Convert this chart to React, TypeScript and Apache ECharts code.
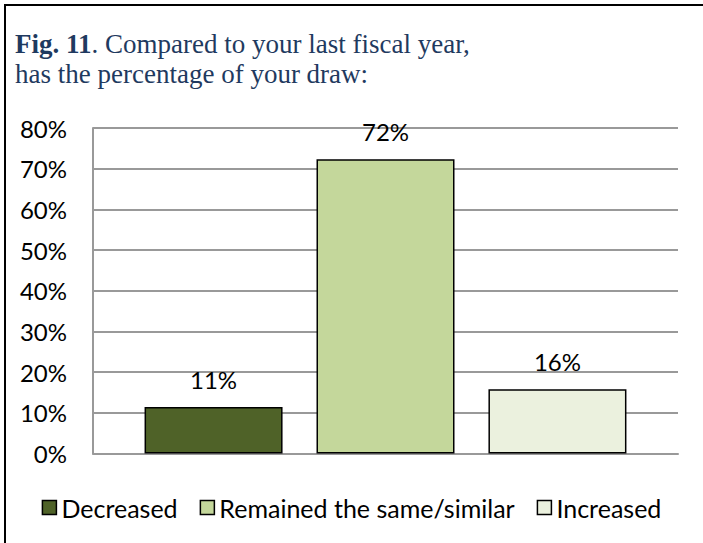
import React, { useEffect, useRef } from "react";
import * as echarts from "echarts";

const seriesNames = ["Decreased", "Remained the same/similar", "Increased"];
const categories = [""];
const values = [11.4, 72.3, 15.8];
const valueLabels = ["11%", "72%", "16%"];
const colors = ["#4F6228", "#C4D79B", "#EBF1DE"];
const yTicks = { min: 0, max: 80, interval: 10 };

const SANS = "Lato, 'Noto Sans', sans-serif";
const SERIF = "'Liberation Serif', 'DejaVu Serif', serif";

export default function App() {
  const ref = useRef<HTMLDivElement>(null);
  useEffect(() => {
    document.body.style.margin = "0";
    const chart = echarts.init(ref.current!, undefined, { renderer: "svg" });
    const series = seriesNames.map((name, i) => ({
      name,
      type: "bar",
      barWidth: 138,
      barGap: "24.6%",
      data: [values[i]],
      itemStyle: { color: colors[i], borderColor: "#000", borderWidth: 1.5 },
      label: {
        show: true,
        position: "top",
        distance: 16,
        fontFamily: SANS,
        fontSize: 24,
        color: "#000",
        formatter: () => valueLabels[i],
      },
    }));
    chart.setOption({
      animation: false,
      grid: { left: 93, right: 25, top: 128, bottom: 89.5 },
      legend: {
        bottom: 18,
        left: "center",
        itemWidth: 14,
        itemHeight: 14,
        itemGap: 22,
        icon: "rect",
        textStyle: { fontFamily: SANS, fontSize: 25, color: "#000", padding: [0, 0, 0, 0] },
        data: seriesNames.map((c, i) => ({
          name: c,
          itemStyle: { color: colors[i], borderColor: "#000", borderWidth: 1.5 },
        })),
      },
      xAxis: {
        type: "category",
        data: categories,
        axisLine: { lineStyle: { color: "#999", width: 2 } },
        axisTick: { show: false },
        axisLabel: { show: false },
      },
      yAxis: {
        type: "value",
        min: yTicks.min,
        max: yTicks.max,
        interval: yTicks.interval,
        axisLine: { show: true, lineStyle: { color: "#999", width: 2 } },
        axisTick: { show: false },
        splitLine: { lineStyle: { color: "#999", width: 2 } },
        axisLabel: {
          formatter: "{value}%",
          fontFamily: SANS,
          fontSize: 24,
          color: "#000",
          margin: 26,
        },
      },
      graphic: [
        {
          type: "rect",
          shape: { x: 5, y: 5, width: 720, height: 560 },
          style: { fill: "none", stroke: "#000", lineWidth: 2 },
          silent: true,
        },
        {
          type: "text",
          left: 15,
          top: 29,
          style: {
            text: "{b|Fig. 11}. Compared to your last fiscal year,\nhas the percentage of your draw:",
            fontFamily: SERIF,
            fontSize: 27,
            lineHeight: 30,
            fill: "#1F3A60",
            rich: {
              b: { fontFamily: SERIF, fontSize: 27, fontWeight: "bold", fill: "#1F3A60", lineHeight: 30 },
            },
          },
        },
      ],
      series,
    });
    return () => chart.dispose();
  }, []);
  return <div ref={ref} style={{ width: 703, height: 543 }} />;
}
